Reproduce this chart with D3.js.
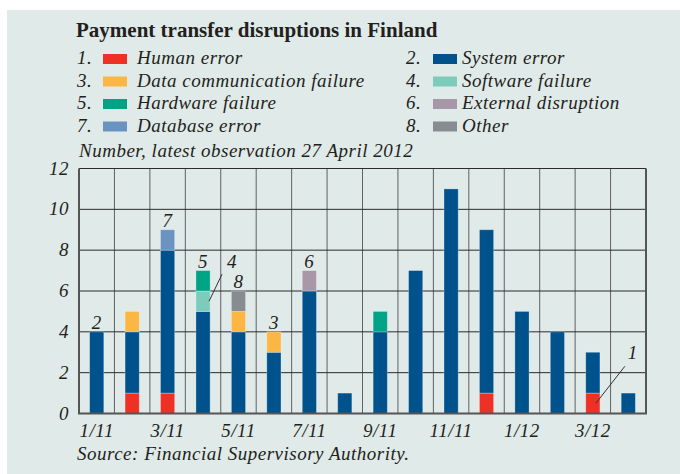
<!DOCTYPE html>
<html>
<head>
<meta charset="utf-8">
<script src="https://cdn.jsdelivr.net/npm/d3@7"></script>
<style>
  body { margin: 0; background: #fff; }
  text { font-family: "Liberation Serif", "DejaVu Serif", serif; fill: #231f20; }
  .it { font-style: italic; font-size: 19px; letter-spacing: 0.5px; }
</style>
</head>
<body>
<script>
const width = 680
const height = 474

// months on the x axis
const months = ["1/11","2/11","3/11","4/11","5/11","6/11","7/11","8/11","9/11","10/11","11/11","12/11","1/12","2/12","3/12","4/12"]
const tickLabels = ["1/11","3/11","5/11","7/11","9/11","11/11","1/12","3/12"]
const yTicks = [0, 2, 4, 6, 8, 10, 12]

// number of disruptions per cause, one value per month
const humanError    = [0,1,1,0,0,0,0,0,0,0,0,1,0,0,1,0]
const systemError   = [4,3,7,5,4,3,6,1,4,7,11,8,5,4,2,1]
const dataComm      = [0,1,0,0,1,1,0,0,0,0,0,0,0,0,0,0]
const softwareFail  = [0,0,0,1,0,0,0,0,0,0,0,0,0,0,0,0]
const hardwareFail  = [0,0,0,1,0,0,0,0,1,0,0,0,0,0,0,0]
const externalDisr  = [0,0,0,0,0,0,1,0,0,0,0,0,0,0,0,0]
const databaseError = [0,0,1,0,0,0,0,0,0,0,0,0,0,0,0,0]
const other         = [0,0,0,0,1,0,0,0,0,0,0,0,0,0,0,0]

const causes = ["Human error","System error","Data communication failure","Software failure",
  "Hardware failure","External disruption","Database error","Other"]
const colors = ["#ee3124","#00528c","#fbb644","#7dcbbb","#00a386","#a896a9","#6b93c1","#878c90"]
const seriesData = [humanError, systemError, dataComm, softwareFail, hardwareFail, externalDisr, databaseError, other]

const rows = months.map((m, i) => {
  const r = {month: m}
  causes.forEach((c, k) => r[c] = seriesData[k][i])
  return r
})

const svg = d3.select('body').append('svg')
  .attr('width', width)
  .attr('height', height)

// panel background
svg.append('rect')
  .attr('x', 7).attr('y', 10)
  .attr('width', width - 7).attr('height', height - 10)
  .attr('fill', '#e0eae8')

svg.append('text')
  .attr('x', 76).attr('y', 37)
  .style('font-size', '21px').style('font-weight', 'bold')
  .text('Payment transfer disruptions in Finland')

// legend, two columns
const legend = svg.append('g')
causes.forEach((c, k) => {
  const col = k % 2, row = Math.floor(k / 2)
  const g = legend.append('g')
    .attr('transform', `translate(${col ? 406 : 77},${64 + row * 22.5})`)
  g.append('text').attr('class', 'it').text((k + 1) + '.')
  g.append('rect').attr('x', col ? 27 : 26).attr('y', -10).attr('width', 24).attr('height', 10).attr('fill', colors[k])
  g.append('text').attr('class', 'it').attr('x', col ? 56 : 60).text(c)
})

svg.append('text').attr('class', 'it')
  .attr('x', 79).attr('y', 157)
  .text('Number, latest observation 27 April 2012')

const margin = {left: 79, right: 646, top: 168.5, bottom: 413.5}

const x = d3.scaleBand()
  .domain(months)
  .range([margin.left, margin.right])
  .paddingInner(0.6)
  .paddingOuter(0.3)

const y = d3.scaleLinear()
  .domain([0, 12])
  .range([margin.bottom, margin.top])

const step = x.step()

// grid
svg.append('g').selectAll('line')
  .data(months.slice(1))
  .enter().append('line')
  .attr('x1', d => x(d) - step * 0.3).attr('x2', d => x(d) - step * 0.3)
  .attr('y1', margin.top).attr('y2', margin.bottom)
  .attr('stroke', '#5f6163').attr('stroke-width', 1)

svg.append('g').selectAll('line')
  .data(yTicks.slice(1))
  .enter().append('line')
  .attr('x1', margin.left).attr('x2', margin.right)
  .attr('y1', d => y(d)).attr('y2', d => y(d))
  .attr('stroke', '#2b2b2b').attr('stroke-width', 1)

// stacked bars
const stack = d3.stack().keys(causes)(rows)
svg.append('g').selectAll('g')
  .data(stack)
  .enter().append('g')
  .attr('fill', (d, i) => colors[i])
  .selectAll('rect')
  .data(d => d.filter(s => s[1] > s[0]))
  .enter().append('rect')
  .attr('x', d => x(d.data.month))
  .attr('width', x.bandwidth())
  .attr('y', d => y(d[1]))
  .attr('height', d => y(d[0]) - y(d[1]))
  .attr('stroke', 'rgba(255,255,255,0.35)').attr('stroke-width', 0.8)

// frame
svg.append('path')
  .attr('d', `M${margin.left},${margin.top}V${margin.bottom}H${margin.right}V${margin.top}`)
  .attr('fill', 'none').attr('stroke', '#555').attr('stroke-width', 2)

// axes labels
svg.append('g').selectAll('text')
  .data(yTicks)
  .enter().append('text').attr('class', 'it')
  .attr('x', 69).attr('y', d => y(d) + 6)
  .attr('text-anchor', 'end')
  .text(d => d)

svg.append('g').selectAll('text')
  .data(tickLabels)
  .enter().append('text').attr('class', 'it')
  .attr('x', d => x(d) + x.bandwidth() / 2)
  .attr('y', 437)
  .attr('text-anchor', 'middle')
  .text(d => d)

svg.append('text').attr('class', 'it')
  .attr('x', 77).attr('y', 460)
  .text('Source: Financial Supervisory Authority.')

// cause numbers on the bars
const notes = [
  {month: "1/11", value: 4, label: "2"},
  {month: "3/11", value: 9, label: "7"},
  {month: "4/11", value: 7, label: "5"},
  {month: "5/11", value: 6, label: "8"},
  {month: "6/11", value: 4, label: "3"},
  {month: "7/11", value: 7, label: "6"}
]
svg.append('g').selectAll('text')
  .data(notes)
  .enter().append('text').attr('class', 'it')
  .attr('x', d => x(d.month) + x.bandwidth() / 2)
  .attr('y', d => y(d.value) - 3)
  .attr('text-anchor', 'middle')
  .text(d => d.label)

// leader line labels
const leaders = [
  {month: "4/11", value: 5.5, off: 6, dx: 13, dy: -27, tx: 23, ty: -33, label: "4"},
  {month: "3/12", value: 0.5, off: 3, dx: 29, dy: -37, tx: 37, ty: -44, label: "1"}
]
leaders.forEach(d => {
  const x0 = x(d.month) + x.bandwidth() / 2 + d.off
  const y0 = y(d.value)
  svg.append('line')
    .attr('x1', x0).attr('y1', y0)
    .attr('x2', x0 + d.dx).attr('y2', y0 + d.dy)
    .attr('stroke', '#333').attr('stroke-width', 1)
  svg.append('text').attr('class', 'it')
    .attr('x', x0 + d.tx).attr('y', y0 + d.ty)
    .attr('text-anchor', 'middle')
    .text(d.label)
})
</script>
</body>
</html>
